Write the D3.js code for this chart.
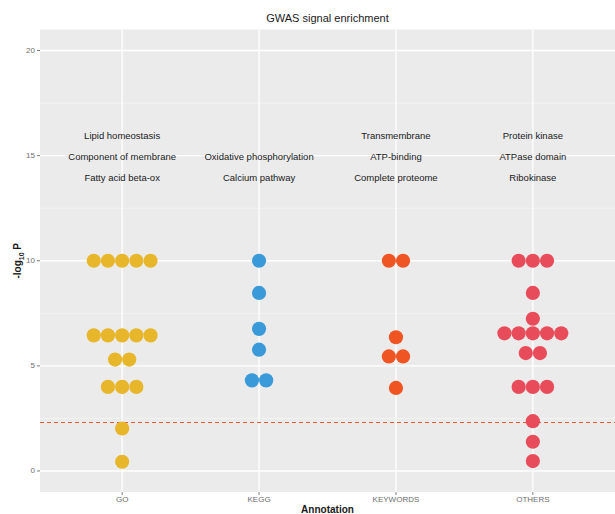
<!DOCTYPE html>
<html>
<head>
<meta charset="utf-8">
<script src="https://cdn.jsdelivr.net/npm/d3@7"></script>
<style>
  html, body { margin: 0; padding: 0; background: #ffffff; }
  svg { display: block; font-family: "Liberation Sans", Arial, sans-serif; }
</style>
</head>
<body>
<svg id="chart" width="615" height="514"></svg>
<script>
// Annotation categories along the x axis
const categories = ["GO", "KEGG", "KEYWORDS", "OTHERS"];

// -log10 P of each enriched term, one entry per dot
const goValues       = [10, 10, 10, 10, 10, 6.45, 6.45, 6.45, 6.45, 6.45, 5.3, 5.3, 4.0, 4.0, 4.0, 2.02, 0.44];
const keggValues     = [10, 8.47, 6.76, 5.77, 4.31, 4.31];
const keywordsValues = [10, 10, 6.36, 5.45, 5.45, 3.95];
const othersValues   = [10, 10, 10, 8.47, 7.24, 6.55, 6.55, 6.55, 6.55, 6.55, 5.61, 5.61, 4.0, 4.0, 4.0, 2.37, 1.39, 0.47];

// Top terms listed above each column
const goTerms       = ["Lipid homeostasis", "Component of membrane", "Fatty acid beta-ox"];
const keggTerms     = ["Oxidative phosphorylation", "Calcium pathway"];
const keywordsTerms = ["Transmembrane", "ATP-binding", "Complete proteome"];
const othersTerms   = ["Protein kinase", "ATPase domain", "Ribokinase"];
const termRows      = [16, 15, 14];

// Significance threshold
const threshold = 2.34;

// Axis ticks
const yTicks = [0, 5, 10, 15, 20];
const yMinorTicks = [2.5, 7.5, 12.5, 17.5];

const seriesValues = [goValues, keggValues, keywordsValues, othersValues];
const seriesTerms = [goTerms, keggTerms, keywordsTerms, othersTerms];
const colors = ["#E8B62A", "#3A9AD9", "#EF5423", "#E84C5A"];

const svg = d3.select("#chart");
const panel = { left: 40, right: 615, top: 29.5, bottom: 492 };

// Discrete x scale with 0.6 expansion on each side
const x = d3.scalePoint()
  .domain(categories)
  .range([panel.left, panel.right])
  .padding(0.6);

const y = d3.scaleLinear()
  .domain([-1, 21])
  .range([panel.bottom, panel.top]);

// Panel background
svg.append("rect")
  .attr("x", panel.left).attr("y", panel.top)
  .attr("width", panel.right - panel.left)
  .attr("height", panel.bottom - panel.top)
  .attr("fill", "#EBEBEB");

const grid = svg.append("g");
grid.selectAll("line.minor").data(yMinorTicks).join("line")
  .attr("class", "minor")
  .attr("x1", panel.left).attr("x2", panel.right)
  .attr("y1", d => y(d)).attr("y2", d => y(d))
  .attr("stroke", "#F6F6F6").attr("stroke-width", 0.7);
grid.selectAll("line.majory").data(yTicks).join("line")
  .attr("class", "majory")
  .attr("x1", panel.left).attr("x2", panel.right)
  .attr("y1", d => y(d)).attr("y2", d => y(d))
  .attr("stroke", "#FFFFFF").attr("stroke-width", 1.3);
grid.selectAll("line.majorx").data(categories).join("line")
  .attr("class", "majorx")
  .attr("x1", d => x(d)).attr("x2", d => x(d))
  .attr("y1", panel.top).attr("y2", panel.bottom)
  .attr("stroke", "#FFFFFF").attr("stroke-width", 1.3);

// Threshold line, snapped to a pixel row so it stays crisp
const yThr = Math.round(y(threshold)) + 0.5;
svg.append("line")
  .attr("x1", panel.left).attr("x2", panel.right)
  .attr("y1", yThr).attr("y2", yThr)
  .attr("stroke", "#EA5A30").attr("stroke-width", 1)
  .attr("stroke-dasharray", "4,3");

// Dot plot: dots sharing a value are stacked side by side, centred on the column
const dotR = 7.1;
const dotStep = 14.2;
const dots = [];
categories.forEach((cat, ci) => {
  d3.groups(seriesValues[ci], v => v).forEach(([v, arr]) => {
    const n = arr.length;
    arr.forEach((_, i) => {
      dots.push({ cat, ci, value: v, offset: (i - (n - 1) / 2) * dotStep });
    });
  });
});
svg.append("g").selectAll("circle").data(dots).join("circle")
  .attr("cx", d => x(d.cat) + d.offset)
  .attr("cy", d => y(d.value))
  .attr("r", dotR)
  .attr("fill", d => colors[d.ci]);

// Term labels above each column
const labels = [];
categories.forEach((cat, ci) => {
  const terms = seriesTerms[ci];
  const rows = terms.length === 3 ? termRows : termRows.slice(1);
  terms.forEach((t, i) => labels.push({ cat, text: t, value: rows[i] }));
});
svg.append("g").selectAll("text").data(labels).join("text")
  .attr("x", d => x(d.cat))
  .attr("y", d => y(d.value))
  .attr("dy", 1.5)
  .attr("text-anchor", "middle")
  .attr("dominant-baseline", "middle")
  .attr("font-size", 9.5)
  .attr("fill", "#1a1a1a")
  .text(d => d.text);

// Y axis
const yAxis = svg.append("g");
yAxis.selectAll("line").data(yTicks).join("line")
  .attr("x1", panel.left - 3).attr("x2", panel.left)
  .attr("y1", d => y(d)).attr("y2", d => y(d))
  .attr("stroke", "#7a7a7a").attr("stroke-width", 1);
yAxis.selectAll("text").data(yTicks).join("text")
  .attr("x", panel.left - 5)
  .attr("y", d => y(d))
  .attr("text-anchor", "end")
  .attr("dominant-baseline", "middle")
  .attr("font-size", 8)
  .attr("fill", "#6e6e6e")
  .text(d => d);

// X axis
const xAxis = svg.append("g");
xAxis.selectAll("line").data(categories).join("line")
  .attr("x1", d => x(d)).attr("x2", d => x(d))
  .attr("y1", panel.bottom).attr("y2", panel.bottom + 3)
  .attr("stroke", "#7a7a7a").attr("stroke-width", 1);
xAxis.selectAll("text").data(categories).join("text")
  .attr("x", d => x(d))
  .attr("y", panel.bottom + 8)
  .attr("text-anchor", "middle")
  .attr("dominant-baseline", "middle")
  .attr("font-size", 8)
  .attr("fill", "#6e6e6e")
  .text(d => d);

// Titles
const midX = (panel.left + panel.right) / 2;
svg.append("text")
  .attr("x", midX).attr("y", 19)
  .attr("text-anchor", "middle")
  .attr("dominant-baseline", "middle")
  .attr("font-size", 11)
  .attr("fill", "#1a1a1a")
  .text("GWAS signal enrichment");

svg.append("text")
  .attr("x", midX).attr("y", 510)
  .attr("text-anchor", "middle")
  .attr("dominant-baseline", "middle")
  .attr("font-size", 10)
  .attr("font-weight", "bold")
  .attr("fill", "#1a1a1a")
  .text("Annotation");

const yTitle = svg.append("text")
  .attr("transform", `translate(21, ${(panel.top + panel.bottom) / 2}) rotate(-90)`)
  .attr("text-anchor", "middle")
  .attr("font-size", 10)
  .attr("font-weight", "bold")
  .attr("fill", "#1a1a1a");
yTitle.append("tspan").text("-log");
yTitle.append("tspan").attr("font-size", 7).attr("dy", 3).text("10");
yTitle.append("tspan").attr("dy", -3).text(" P");
</script>
</body>
</html>
